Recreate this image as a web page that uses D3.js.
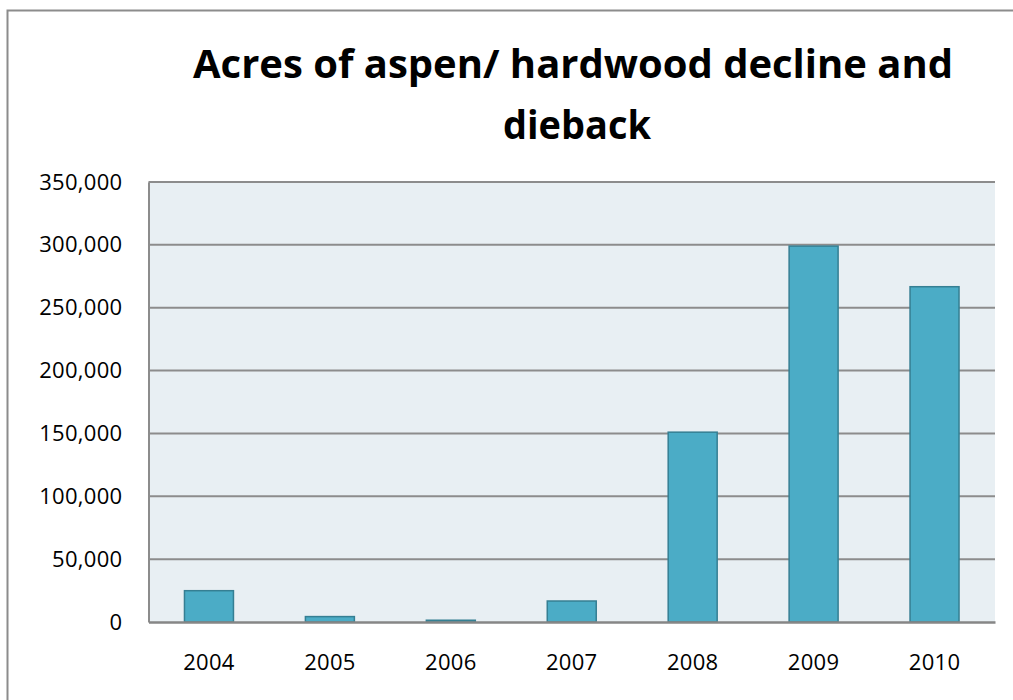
<!DOCTYPE html>
<html>
<head>
<meta charset="utf-8">
<script src="https://cdn.jsdelivr.net/npm/d3@7"></script>
<style>
  html, body { margin: 0; padding: 0; background: #fff; }
  svg { display: block; }
</style>
</head>
<body>
<svg id="chart" width="1013" height="700"></svg>
<script>
// Acres of aspen / hardwood decline and dieback, by year
const years = ["2004", "2005", "2006", "2007", "2008", "2009", "2010"];
const acres = [24900, 4300, 1400, 16700, 151000, 299000, 266700];
const yTicks = [0, 50000, 100000, 150000, 200000, 250000, 300000, 350000];
const titleLines = ["Acres of aspen/ hardwood decline and", "dieback"];

const svg = d3.select("#chart");
const plot = { left: 148.5, right: 995, top: 182, bottom: 622 };
const font = "'Open Sans', 'Noto Sans', sans-serif";

// outer chart frame (runs past the right and bottom edges)
svg.append("rect")
  .attr("x", 7.5).attr("y", 10.5)
  .attr("width", 1020).attr("height", 700)
  .attr("fill", "#fff")
  .attr("stroke", "#8c8c8c").attr("stroke-width", 2);

// title
const title = svg.append("g").attr("font-family", font).attr("font-weight", 700)
  .attr("font-size", 39).attr("fill", "#000").attr("text-anchor", "middle");
title.append("text").attr("x", 573).attr("y", 78)
  .attr("textLength", 760).attr("lengthAdjust", "spacingAndGlyphs")
  .text(titleLines[0]);
title.append("text").attr("x", 577).attr("y", 139)
  .attr("textLength", 148).attr("lengthAdjust", "spacingAndGlyphs")
  .text(titleLines[1]);

const x = d3.scaleBand()
  .domain(years)
  .range([plot.left, plot.right])
  .paddingInner(0.595)
  .paddingOuter(0.2975);

const y = d3.scaleLinear()
  .domain([0, 350000])
  .range([plot.bottom, plot.top]);

// plot area background
svg.append("rect")
  .attr("x", plot.left).attr("y", plot.top)
  .attr("width", plot.right - plot.left).attr("height", plot.bottom - plot.top)
  .attr("fill", "#e8eff3");

// horizontal gridlines
svg.append("g")
  .selectAll("line")
  .data(yTicks.filter(d => d > 0))
  .join("line")
  .attr("x1", plot.left).attr("x2", plot.right)
  .attr("y1", d => y(d)).attr("y2", d => y(d))
  .attr("stroke", "#8c8c8c").attr("stroke-width", 2);

// bars
svg.append("g")
  .selectAll("rect")
  .data(years.map((yr, i) => ({ yr, v: acres[i] })))
  .join("rect")
  .attr("x", d => x(d.yr))
  .attr("width", x.bandwidth())
  .attr("y", d => y(d.v))
  .attr("height", d => y(0) - y(d.v))
  .attr("fill", "#4bacc6")
  .attr("stroke", "#357f93")
  .attr("stroke-width", 1.5);

// y axis
const yAxis = svg.append("g")
  .attr("transform", `translate(${plot.left},0)`)
  .call(d3.axisLeft(y).tickValues(yTicks).tickFormat(d3.format(",")).tickSize(0).tickPadding(26));
yAxis.select(".domain").attr("stroke", "#8c8c8c").attr("stroke-width", 2);
yAxis.selectAll("text")
  .attr("font-family", font).attr("font-size", 22).attr("fill", "#000")
  .attr("letter-spacing", 0.3);

// x axis
const xAxis = svg.append("g")
  .attr("transform", `translate(0,${plot.bottom})`)
  .call(d3.axisBottom(x).tickSize(0).tickPadding(32));
xAxis.select(".domain").attr("stroke", "#868686").attr("stroke-width", 2.5);
xAxis.selectAll("text")
  .attr("font-family", font).attr("font-size", 22).attr("fill", "#000")
  .attr("letter-spacing", 0.3);
</script>
</body>
</html>
